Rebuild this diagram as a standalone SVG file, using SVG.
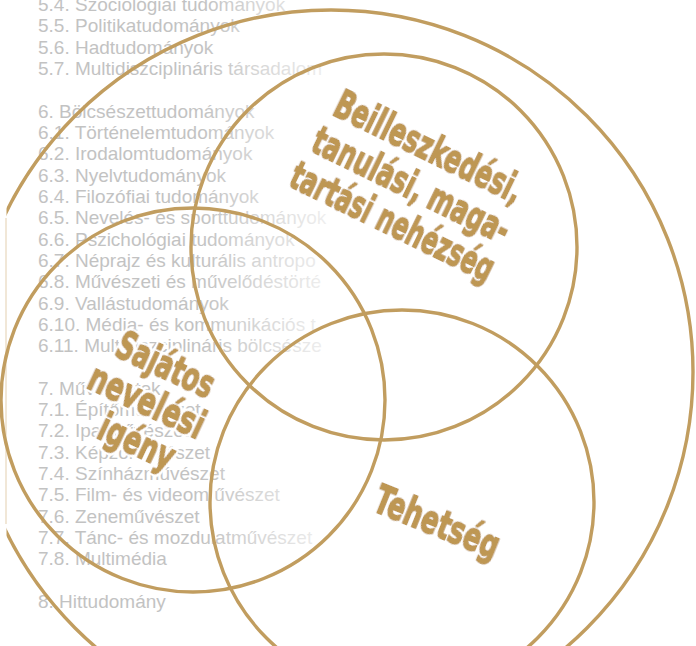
<svg xmlns="http://www.w3.org/2000/svg" width="696" height="646" viewBox="0 0 696 646">
<defs>
<linearGradient id="fade" gradientUnits="userSpaceOnUse" x1="200" y1="0" x2="330" y2="0">
<stop offset="0" stop-color="#c2c2c2"/>
<stop offset="1" stop-color="#f0f0f0"/>
</linearGradient>
<clipPath id="listclip"><rect x="0" y="0" width="329" height="646"/></clipPath>
<clipPath id="outerclip"><rect x="6.5" y="0" width="690" height="646"/></clipPath>
<filter id="halo" x="-10%" y="-30%" width="120%" height="160%">
<feMorphology in="SourceAlpha" operator="dilate" radius="1.6" result="d"/>
<feFlood flood-color="#ffffff"/>
<feComposite in2="d" operator="in" result="w"/>
<feMerge><feMergeNode in="w"/><feMergeNode in="SourceGraphic"/></feMerge>
</filter>
</defs>
<style>
.item{font-family:"Liberation Sans",Arial,sans-serif;font-size:19px;fill:url(#fade)}
.ring{fill:none;stroke:#c19d5f;stroke-width:3.4}
.lbl{font-family:"DejaVu Sans",sans-serif;font-weight:bold;font-size:39px;fill:#be9753;stroke:#be9753;stroke-width:1.8;stroke-linejoin:round;filter:url(#halo)}
</style>
<rect width="696" height="646" fill="#fff"/>
<g id="list" clip-path="url(#listclip)">
<text class="item" x="38" y="11">5.4. Szociológiai tudományok</text>
<text class="item" x="38" y="32.3">5.5. Politikatudományok</text>
<text class="item" x="38" y="53.6">5.6. Hadtudományok</text>
<text class="item" x="38" y="75">5.7. Multidiszciplináris társadalom</text>
<text class="item" x="38" y="117.6">6. Bölcsészettudományok</text>
<text class="item" x="38" y="138.9">6.1. Történelemtudományok</text>
<text class="item" x="38" y="160.2">6.2. Irodalomtudományok</text>
<text class="item" x="38" y="181.6">6.3. Nyelvtudományok</text>
<text class="item" x="38" y="202.9">6.4. Filozófiai tudományok</text>
<text class="item" x="38" y="224.2">6.5. Nevelés- és sporttudományok</text>
<text class="item" x="38" y="245.5">6.6. Pszichológiai tudományok</text>
<text class="item" x="38" y="266.8">6.7. Néprajz és kulturális antropo</text>
<text class="item" x="38" y="288.2">6.8. Művészeti és művelődéstörté</text>
<text class="item" x="38" y="309.5">6.9. Vallástudományok</text>
<text class="item" x="38" y="330.8">6.10. Média- és kommunikációs t</text>
<text class="item" x="38" y="352.1">6.11. Multidiszciplináris bölcsésze</text>
<text class="item" x="38" y="394.8">7. Művészetek</text>
<text class="item" x="38" y="416.1">7.1. Építőművészet</text>
<text class="item" x="38" y="437.4">7.2. Iparművészet</text>
<text class="item" x="38" y="458.7">7.3. Képzőművészet</text>
<text class="item" x="38" y="480">7.4. Színházművészet</text>
<text class="item" x="38" y="501.4">7.5. Film- és videom űvészet</text>
<text class="item" x="38" y="522.7">7.6. Zeneművészet</text>
<text class="item" x="38" y="544">7.7. Tánc- és mozdulatművészet</text>
<text class="item" x="38" y="565.3">7.8. Multimédia</text>
<text class="item" x="38" y="608">8. Hittudomány</text>
</g>
<g id="outer">
<circle class="ring" cx="331" cy="372" r="362" clip-path="url(#outerclip)"/>
<line x1="6" y1="218" x2="6" y2="524" stroke="#ecdfca" stroke-width="1.5"/>
</g>
<g id="beilleszkedesi">
<circle class="ring" cx="384" cy="247" r="193"/>
<text class="lbl" transform="translate(331,114) rotate(26)" textLength="205" lengthAdjust="spacingAndGlyphs">Beilleszkedési,</text>
<text class="lbl" transform="translate(309,150) rotate(26)" textLength="215" lengthAdjust="spacingAndGlyphs">tanulási, maga-</text>
<text class="lbl" transform="translate(287,185) rotate(26)" textLength="222" lengthAdjust="spacingAndGlyphs">tartási nehézség</text>
</g>
<g id="sajatos">
<circle class="ring" cx="193" cy="400" r="192"/>
<text class="lbl" transform="translate(113,355) rotate(25)" textLength="104" lengthAdjust="spacingAndGlyphs">Sajátos</text>
<text class="lbl" transform="translate(85,387) rotate(25)" textLength="124" lengthAdjust="spacingAndGlyphs">nevelési</text>
<text class="lbl" transform="translate(95,437) rotate(25)" textLength="80" lengthAdjust="spacingAndGlyphs">igény</text>
</g>
<g id="tehetseg">
<circle class="ring" cx="402" cy="502" r="192"/>
<text class="lbl" transform="translate(371,510) rotate(22)" textLength="132" lengthAdjust="spacingAndGlyphs">Tehetség</text>
</g>
</svg>
